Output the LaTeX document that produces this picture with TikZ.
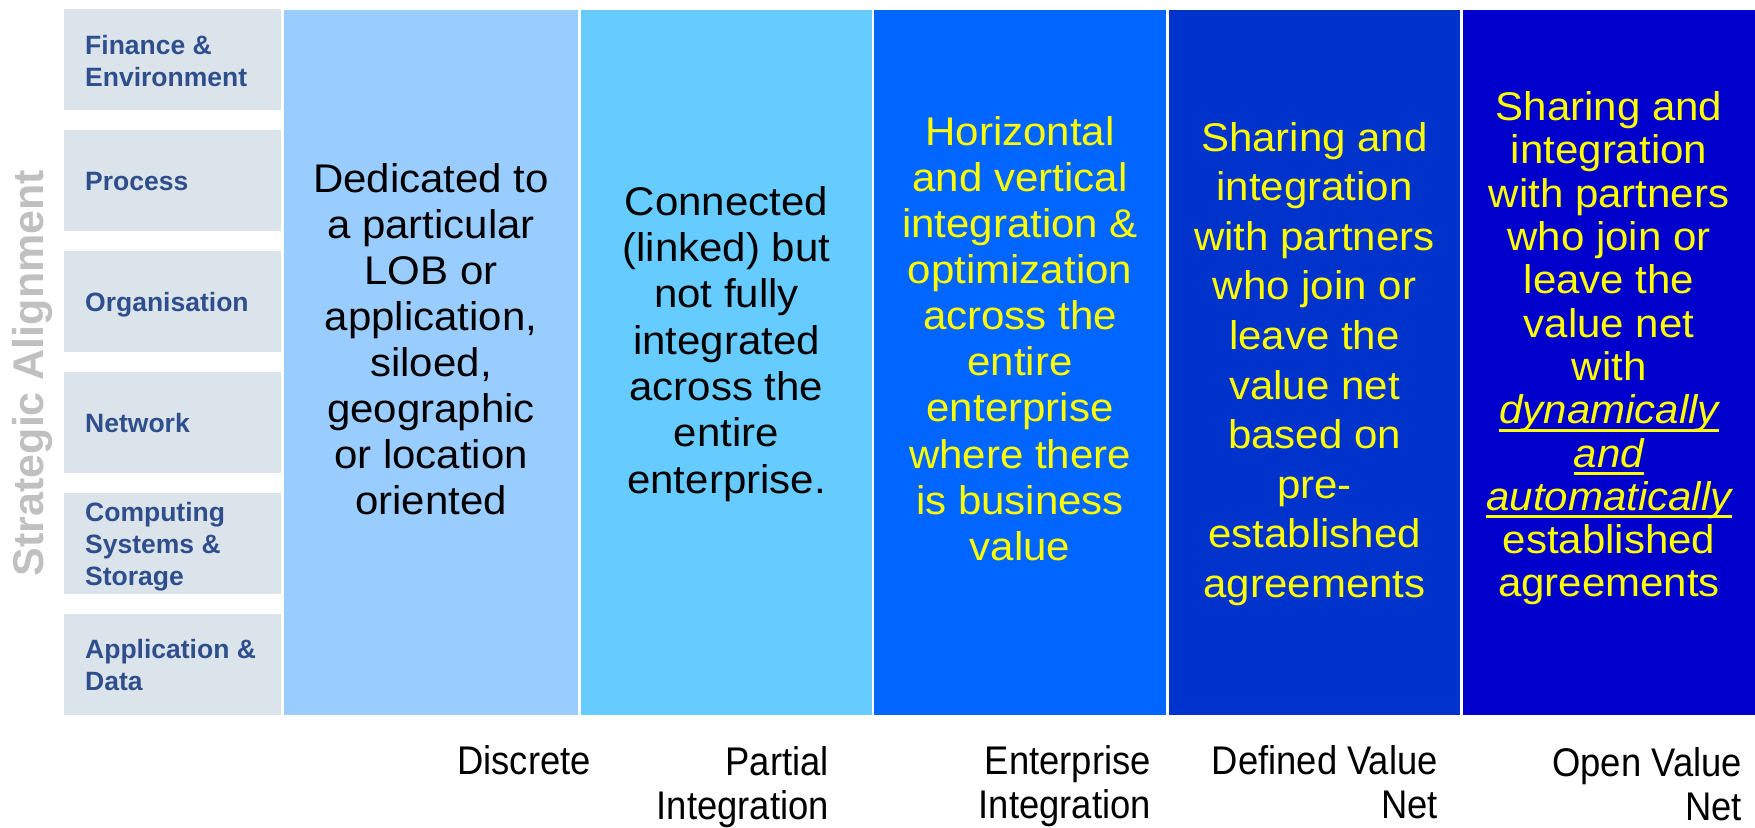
\documentclass[tikz,border=0pt]{standalone}
\usepackage{fontspec}
\setmainfont{Liberation Sans}
\newfontfamily\colfont[FakeStretch=1.05]{Liberation Sans}
\newfontfamily\botfont[FakeStretch=0.91]{Liberation Sans}
\definecolor{colA}{HTML}{99CCFF}
\definecolor{colB}{HTML}{66CCFF}
\definecolor{colC}{HTML}{0066FF}
\definecolor{colD}{HTML}{0033CC}
\definecolor{colE}{HTML}{0000CC}
\definecolor{boxfill}{HTML}{DCE4EB}
\definecolor{boxtext}{HTML}{2E4E8C}
\definecolor{sidegray}{HTML}{C0C0C0}
\definecolor{txtyellow}{HTML}{FFFF00}
\newcommand\yul[1]{\setbox0=\hbox{#1}\rlap{\rule[-8pt]{\wd0}{3pt}}\box0}
\begin{document}
\begin{tikzpicture}[x=1pt,y=-1pt,
  lefttext/.style={anchor=north west, align=left, inner sep=0pt, text=boxtext,
    font=\bfseries\fontsize{26.5}{32}\selectfont},
  coltext/.style={anchor=north, align=center, inner sep=0pt},
  botlab/.style={anchor=north east, align=right, inner sep=0pt,
    font=\botfont\fontsize{40}{44}\selectfont}]
\fill[white] (0,0) rectangle (1755,827);
\useasboundingbox (0,0) rectangle (1755,827);
% left boxes
\foreach \t in {9,130,251,372,493,614}{
  \fill[boxfill] (64,\t) rectangle (281,\t+101);
}
\node[lefttext] (l1) at (85,34.7) {Finance \&\\Environment};
\node[lefttext] (l2) at (85,172.2) {Process};
\node[lefttext] (l3) at (85,292.2) {Organisation};
\node[lefttext] (l4) at (85,412.7) {Network};
\node[lefttext] (l5) at (85,502.4) {Computing\\Systems \&\\Storage};
\node[lefttext] (l6) at (85,639) {Application \&\\Data};
% side title
\node[rotate=90, anchor=base, inner sep=0pt, text=sidegray,
  font=\bfseries\fontsize{43}{50}\selectfont] (side) at (43,373) {Strategic Alignment};
% columns
\fill[colA] (284,9.5) rectangle (578,715);
\fill[colB] (581,9.5) rectangle (872,715);
\fill[colC] (874,9.5) rectangle (1166,715);
\fill[colD] (1169,9.5) rectangle (1460,715);
\fill[colE] (1463,9.5) rectangle (1755,715);
% column texts
\node[coltext, text=black, font=\colfont\fontsize{40}{46}\selectfont] (t1) at (431,163)
  {Dedicated to\\a particular\\LOB or\\application,\\siloed,\\geographic\\or location\\oriented};
\node[coltext, text=black, font=\colfont\fontsize{40}{46.3}\selectfont] (t2) at (726.5,186.2)
  {Connected\\(linked) but\\not fully\\integrated\\across the\\entire\\enterprise.};
\node[coltext, text=txtyellow, font=\colfont\fontsize{40}{46.1}\selectfont] (t3) at (1020,116.2)
  {Horizontal\\and vertical\\integration \&\\optimization\\across the\\entire\\enterprise\\where there\\is business\\value};
\node[coltext, text=txtyellow, font=\colfont\fontsize{40}{49.6}\selectfont] (t4) at (1314.5,121.9)
  {Sharing and\\integration\\with partners\\who join or\\leave the\\value net\\based on\\pre-\\established\\agreements};
\node[coltext, text=txtyellow, font=\colfont\fontsize{40}{43.3}\selectfont] (t5) at (1609,91.5)
  {Sharing and\\integration\\with partners\\who join or\\leave the\\value net\\with\\\yul{\itshape dynamically}\\\yul{\itshape and}\\\yul{\itshape automatically}\\established\\agreements};
% bottom labels
\node[botlab] (n1) at (591,745.4) {Discrete};
\node[botlab] (n2) at (829,746.4) {Partial\\Integration};
\node[botlab] (n3) at (1151,745.4) {Enterprise\\Integration};
\node[botlab] (n4) at (1438,745.4) {Defined Value\\Net};
\node[botlab] (n5) at (1742,747.4) {Open Value\\Net};
\end{tikzpicture}
\end{document}
